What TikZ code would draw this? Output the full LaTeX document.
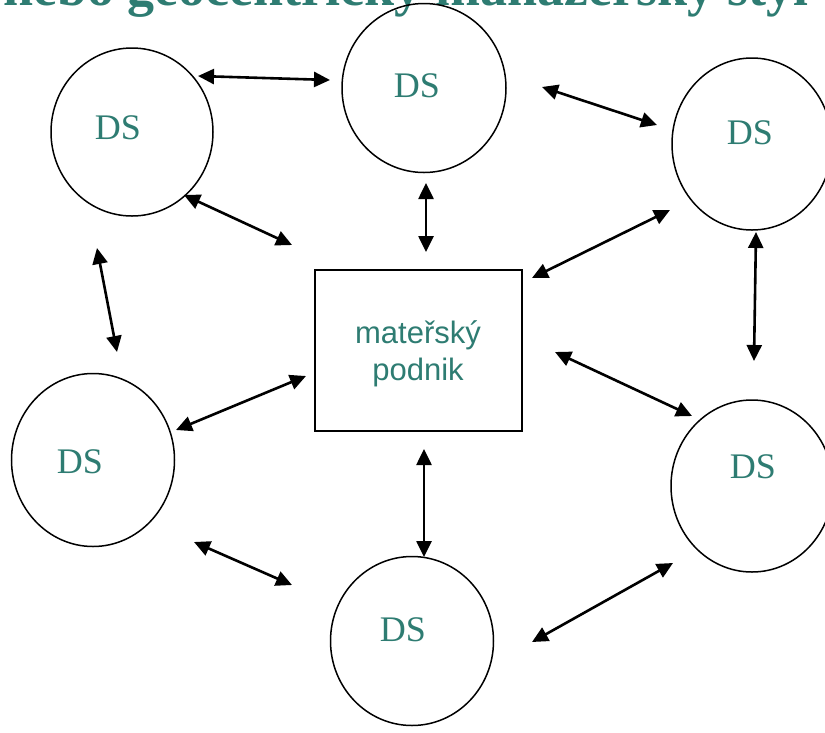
\documentclass[tikz,border=0pt]{standalone}
\usepackage{fontspec}
\setmainfont{Liberation Serif}
\newfontfamily\arialfont{Liberation Sans}
\usetikzlibrary{shapes.geometric,arrows.meta}
\definecolor{teal1}{RGB}{46,124,114}
\tikzset{
  dsnode/.style={draw=black, line width=1.5pt, ellipse, inner sep=0pt},
  dslabel/.style={text=teal1, font=\fontsize{36}{40}\selectfont, inner sep=0pt},
  boxnode/.style={draw=black, line width=1.8pt, minimum width=207pt, minimum height=161pt, inner sep=0pt},
  boxlabel/.style={text=teal1, font=\arialfont\fontsize{31}{37}\selectfont, align=center, inner sep=0pt},
  link/.style={line width=2.6pt, {Triangle[length=16pt,width=15pt]}-{Triangle[length=16pt,width=15pt]}},
  titletext/.style={text=teal1, font=\bfseries\fontsize{54}{60}\selectfont, inner sep=0pt}
}
\begin{document}
\begin{tikzpicture}[x=1pt,y=-1pt]
\useasboundingbox (0,0) rectangle (825,732);
\clip (0,0) rectangle (825,732);
\node[titletext, anchor=base west] (title) at (3,5) {nebo geocentrický manažerský styl};
% circles
\node[dsnode, minimum width=162pt, minimum height=168pt] (c1) at (132,132) {};
\node[dsnode, minimum width=164pt, minimum height=169pt] (c2) at (424,88) {};
\node[dsnode, minimum width=160pt, minimum height=172pt] (c3) at (752,144) {};
\node[dsnode, minimum width=163pt, minimum height=173pt] (c4) at (93,460) {};
\node[dsnode, minimum width=162pt, minimum height=172pt] (c5) at (752,486) {};
\node[dsnode, minimum width=163pt, minimum height=169pt] (c6) at (412,641) {};
\node[dslabel] (l1) at (118,128) {DS};
\node[dslabel] (l2) at (417,86) {DS};
\node[dslabel] (l3) at (750,133) {DS};
\node[dslabel] (l4) at (80,462) {DS};
\node[dslabel] (l5) at (753,467) {DS};
\node[dslabel] (l6) at (403,630) {DS};
% box
\node[boxnode] (box) at (418.5,350.5) {};
\node[boxlabel] (boxt) at (418,354) {mateřský\\podnik};
% arrow end points
\coordinate (a1) at (198,76);  \coordinate (a2) at (330,80);
\coordinate (b1) at (542,87);  \coordinate (b2) at (657,125);
\coordinate (e1) at (184,195); \coordinate (e2) at (292,245);
\coordinate (d1) at (426,183); \coordinate (d2) at (426,252);
\coordinate (f1) at (670,210); \coordinate (f2) at (532,278);
\coordinate (g1) at (97,248);  \coordinate (g2) at (117,352);
\coordinate (h1) at (756,232); \coordinate (h2) at (754,361);
\coordinate (i1) at (306,376); \coordinate (i2) at (176,430);
\coordinate (j1) at (555,352); \coordinate (j2) at (692,416);
\coordinate (k1) at (424,449); \coordinate (k2) at (424,557);
\coordinate (m1) at (194,542); \coordinate (m2) at (292,585);
\coordinate (n1) at (673,563); \coordinate (n2) at (532,642);
\draw[link] (a1) -- (a2);
\draw[link] (b1) -- (b2);
\draw[link] (e1) -- (e2);
\draw[link] (d1) -- (d2);
\draw[link] (f1) -- (f2);
\draw[link] (g1) -- (g2);
\draw[link] (h1) -- (h2);
\draw[link] (i1) -- (i2);
\draw[link] (j1) -- (j2);
\draw[link] (k1) -- (k2);
\draw[link] (m1) -- (m2);
\draw[link] (n1) -- (n2);
\end{tikzpicture}
\end{document}
